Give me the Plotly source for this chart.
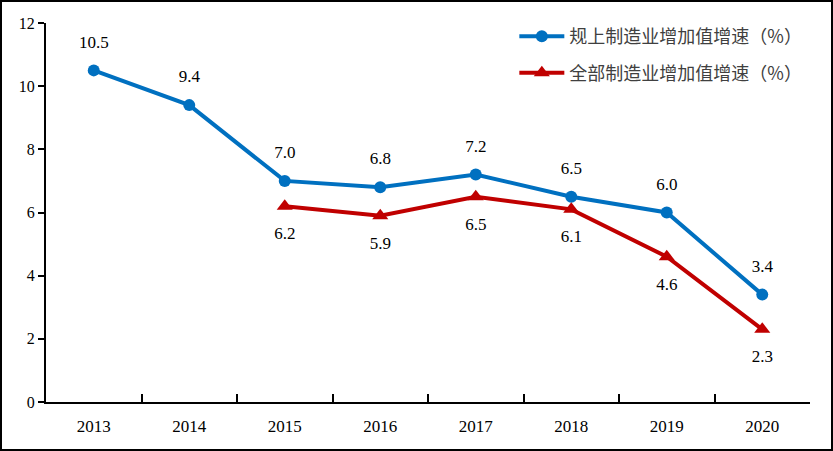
import plotly.graph_objects as go

years = ['2013', '2014', '2015', '2016', '2017', '2018', '2019', '2020']
above_scale = [10.5, 9.4, 7.0, 6.8, 7.2, 6.5, 6.0, 3.4]
all_mfg_years = ['2015', '2016', '2017', '2018', '2019', '2020']
all_mfg = [6.2, 5.9, 6.5, 6.1, 4.6, 2.3]

name_blue = '规上制造业增加值增速（%）'
name_red = '全部制造业增加值增速（%）'

serif = "'Liberation Serif', 'Times New Roman', serif"
cjk = "'Noto Sans CJK SC', sans-serif"

fig = go.Figure()
fig.add_trace(go.Scatter(
    x=years, y=above_scale, name=name_blue, legendgroup='a',
    mode='lines+markers',
    line=dict(color='#0070C0', width=4),
    marker=dict(symbol='circle', size=12, color='#0070C0'),
))
fig.add_trace(go.Scatter(
    x=all_mfg_years, y=all_mfg, name=name_red, legendgroup='b',
    mode='lines+markers',
    line=dict(color='#C00000', width=4),
    marker=dict(symbol='triangle-up', size=14, color='#C00000'),
))

# value labels: invisible big markers push the text away from the points
fig.add_trace(go.Scatter(
    x=years, y=above_scale, mode='markers+text', showlegend=False, hoverinfo='skip',
    marker=dict(size=28, color='rgba(0,0,0,0)'),
    text=[f'{v:.1f}' for v in above_scale], textposition='top center',
    textfont=dict(family=serif, size=17, color='black'),
))
fig.add_trace(go.Scatter(
    x=all_mfg_years, y=all_mfg, mode='markers+text', showlegend=False, hoverinfo='skip',
    marker=dict(size=31, color='rgba(0,0,0,0)'),
    text=[f'{v:.1f}' for v in all_mfg], textposition='bottom center',
    textfont=dict(family=serif, size=17, color='black'),
))

W, H = 833, 451
ml, mr, mt, mb = 46, 23, 23, 49
pw, ph = W - ml - mr, H - mt - mb

# frame around the whole picture
fig.add_shape(type='rect', xref='paper', yref='paper',
              x0=(1 - ml) / pw, x1=(W - 1 - ml) / pw,
              y0=(1 - mb) / ph, y1=(H - 1 - mb) / ph,
              line=dict(color='black', width=2), layer='below')

fig.update_layout(
    width=W, height=H,
    margin=dict(l=ml, r=mr, t=mt, b=mb, autoexpand=False),
    plot_bgcolor='white', paper_bgcolor='white',
    showlegend=True,
    legend=dict(x=0.613, y=1.013, xanchor='left', yanchor='top',
                font=dict(family=cjk, size=18, color='#404040'),
                bgcolor='rgba(0,0,0,0)', tracegroupgap=10, itemwidth=45),
    xaxis=dict(type='category', showline=True, linecolor='black', linewidth=2,
               ticks='inside', ticklen=8, tickwidth=2, tickcolor='black',
               tickson='boundaries', showgrid=False, ticklabelstandoff=8,
               tickfont=dict(family=serif, size=17, color='black'),
               range=[-0.5, 7.5]),
    yaxis=dict(range=[0, 12], dtick=2, showline=True, linecolor='black', linewidth=2,
               ticks='outside', ticklen=6, tickwidth=2, tickcolor='black',
               showgrid=False, zeroline=False,
               tickfont=dict(family=serif, size=16, color='black')),
)

fig.write_html('out.html', config={'displayModeBar': False},
               post_script="document.body.style.margin='0';")
